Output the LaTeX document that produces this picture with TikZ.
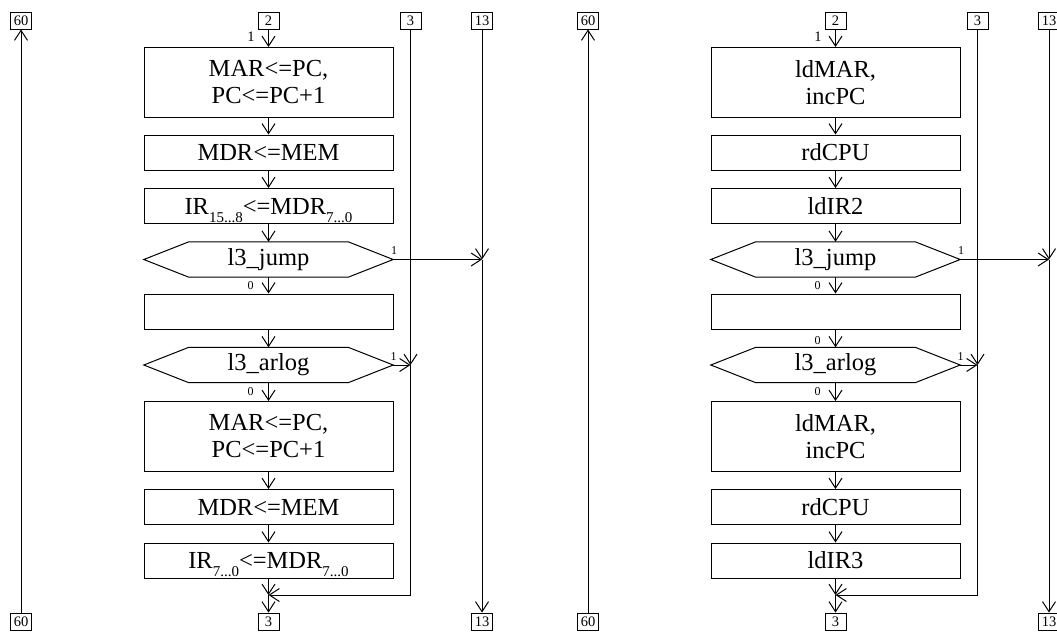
\documentclass[tikz,border=0pt]{standalone}
\usepackage{fontspec}
\setmainfont{Liberation Serif}
\usetikzlibrary{arrows.meta, calc}
\newcommand{\lowidx}[1]{\raisebox{-8pt}[0pt][0pt]{\fontsize{15}{15}\selectfont #1}}
\tikzset{
  op/.style={draw, line width=1pt, minimum width=249pt, minimum height=35pt, inner sep=0pt, align=center, font=\fontsize{24.5}{27}\selectfont},
  opbig/.style={op, minimum height=70pt},
  cond/.style={minimum width=249pt, minimum height=35pt, inner sep=0pt, font=\fontsize{24.5}{27}\selectfont},
  conn/.style={draw, line width=0.9pt, minimum width=21pt, minimum height=17pt, inner sep=0pt, font=\fontsize{14.5}{14}\selectfont},
  flow/.style={line width=1pt, -{Straight Barb[length=10pt,width=13pt]}},
  bit/.style={inner sep=0pt, font=\fontsize{12}{12}\selectfont},
}

\begin{document}
\begin{tikzpicture}[x=1pt,y=-1pt]
\useasboundingbox (0,0) rectangle (1057,632);
% left chart
\node[conn] (c60tL) at (21,20.5) {60};
\node[conn] (c2L) at (268.5,20.5) {2};
\node[conn] (c3tL) at (410.5,20.5) {3};
\node[conn] (c13tL) at (482,20.5) {13};
\node[conn] (c60bL) at (21,621.5) {60};
\node[conn] (c3bL) at (268.5,621.5) {3};
\node[conn] (c13bL) at (482,621.5) {13};
\node[opbig] (a1L) at (268.5,82.5) {MAR<=PC,\\PC<=PC+1};
\node[op] (a2L) at (268.5,152.5) {MDR<=MEM};
\node[op] (a3L) at (268.5,206) {IR\lowidx{15...8}<=MDR\lowidx{7...0}};
\node[cond] (jmpL) at (268.5,259.5) {l3\_jump};
\node[op] (emptyL) at (268.5,311.5) {};
\node[cond] (arlL) at (268.5,365) {l3\_arlog};
\node[opbig] (b1L) at (268.5,436.5) {MAR<=PC,\\PC<=PC+1};
\node[op] (b2L) at (268.5,507) {MDR<=MEM};
\node[op] (b3L) at (268.5,560.5) {IR\lowidx{7...0}<=MDR\lowidx{7...0}};
\coordinate (mergeL) at (268.5,595);
\coordinate (j3L) at (c3tL |- arlL);
\coordinate (j13L) at (c13tL |- jmpL);
\node[bit, font=\fontsize{14.5}{14}\selectfont] (in1L) at (251,37) {1};
\node[bit] (jmp1L) at (394,251) {1};
\node[bit] (jmp0L) at (250.5,286) {0};
\node[bit] (arl1L) at (393.5,357) {1};
\node[bit] (arl0L) at (250.5,392) {0};
\draw[flow] (c2L) -- (a1L);
\draw[flow] (a1L) -- (a2L);
\draw[flow] (a2L) -- (a3L);
\draw[flow] (a3L) -- (jmpL);
\draw[flow] (jmpL) -- (emptyL);
\draw[flow] (emptyL) -- (arlL);
\draw[flow] (arlL) -- (b1L);
\draw[flow] (b1L) -- (b2L);
\draw[flow] (b2L) -- (b3L);
\draw[flow] (b3L) -- (mergeL);
\draw[flow] (mergeL) -- (c3bL);
\draw[flow] (c3tL) -- (j3L);
\draw[flow] (arlL.east) -- (j3L);
\draw[flow] (j3L) |- (mergeL);
\draw[flow] (c13tL) -- (j13L);
\draw[flow] (jmpL.east) -- (j13L);
\draw[flow] (j13L) -- (c13bL);
\draw[flow] (c60bL) -- (c60tL);
% right chart
\node[conn] (c60tR) at (588,20.5) {60};
\node[conn] (c2R) at (835.5,20.5) {2};
\node[conn] (c3tR) at (977.5,20.5) {3};
\node[conn] (c13tR) at (1049,20.5) {13};
\node[conn] (c60bR) at (588,621.5) {60};
\node[conn] (c3bR) at (835.5,621.5) {3};
\node[conn] (c13bR) at (1049,621.5) {13};
\node[opbig] (a1R) at (835.5,82.5) {ldMAR,\\incPC};
\node[op] (a2R) at (835.5,152.5) {rdCPU};
\node[op] (a3R) at (835.5,206) {ldIR2};
\node[cond] (jmpR) at (835.5,259.5) {l3\_jump};
\node[op] (emptyR) at (835.5,311.5) {};
\node[cond] (arlR) at (835.5,365) {l3\_arlog};
\node[opbig] (b1R) at (835.5,436.5) {ldMAR,\\incPC};
\node[op] (b2R) at (835.5,507) {rdCPU};
\node[op] (b3R) at (835.5,560.5) {ldIR3};
\coordinate (mergeR) at (835.5,595);
\coordinate (j3R) at (c3tR |- arlR);
\coordinate (j13R) at (c13tR |- jmpR);
\node[bit, font=\fontsize{14.5}{14}\selectfont] (in1R) at (818,37) {1};
\node[bit] (jmp1R) at (961,251) {1};
\node[bit] (jmp0R) at (817.5,286) {0};
\node[bit] (emp0R) at (817.5,341) {0};
\node[bit] (arl1R) at (960.5,357) {1};
\node[bit] (arl0R) at (817.5,392) {0};
\draw[flow] (c2R) -- (a1R);
\draw[flow] (a1R) -- (a2R);
\draw[flow] (a2R) -- (a3R);
\draw[flow] (a3R) -- (jmpR);
\draw[flow] (jmpR) -- (emptyR);
\draw[flow] (emptyR) -- (arlR);
\draw[flow] (arlR) -- (b1R);
\draw[flow] (b1R) -- (b2R);
\draw[flow] (b2R) -- (b3R);
\draw[flow] (b3R) -- (mergeR);
\draw[flow] (mergeR) -- (c3bR);
\draw[flow] (c3tR) -- (j3R);
\draw[flow] (arlR.east) -- (j3R);
\draw[flow] (j3R) |- (mergeR);
\draw[flow] (c13tR) -- (j13R);
\draw[flow] (jmpR.east) -- (j13R);
\draw[flow] (j13R) -- (c13bR);
\draw[flow] (c60bR) -- (c60tR);
% decision outlines
\foreach \h in {jmpL,arlL,jmpR,arlR}
  \draw[line width=1pt] (\h.west) -- ($(\h.north west)+(45,0)$) -- ($(\h.north east)+(-45,0)$) -- (\h.east) -- ($(\h.south east)+(-45,0)$) -- ($(\h.south west)+(45,0)$) -- cycle;
\end{tikzpicture}
\end{document}
